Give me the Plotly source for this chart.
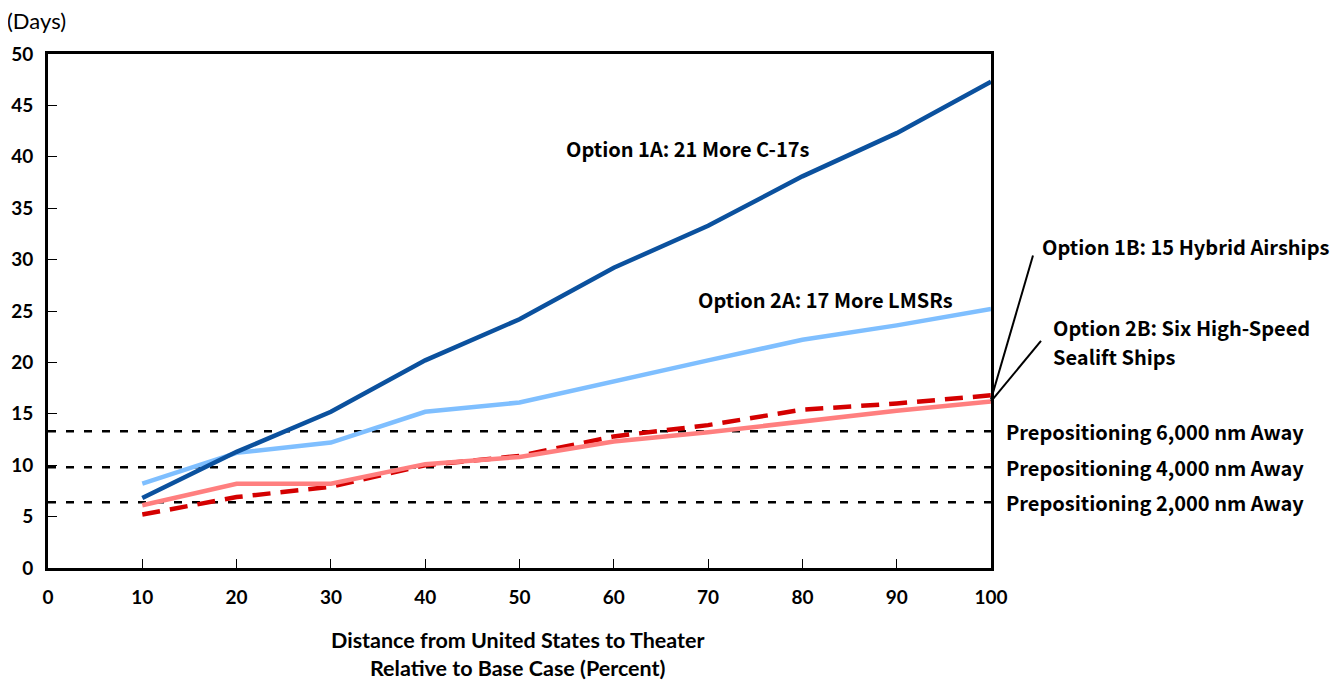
import plotly.graph_objects as go

x_vals = [10, 20, 30, 40, 50, 60, 70, 80, 90, 100]
opt_1a = [6.8, 11.3, 15.2, 20.2, 24.2, 29.2, 33.3, 38.1, 42.3, 47.3]
opt_2a = [8.2, 11.2, 12.2, 15.2, 16.1, 18.2, 20.2, 22.2, 23.6, 25.2]
opt_2b = [6.1, 8.2, 8.2, 10.1, 10.8, 12.3, 13.2, 14.3, 15.3, 16.2]
opt_1b = [5.2, 6.9, 7.9, 10.0, 10.9, 12.8, 13.9, 15.4, 16.0, 16.8]
prepos_levels = [13.3, 9.8, 6.4]
prepos_labels = ["Prepositioning 6,000 nm Away", "Prepositioning 4,000 nm Away", "Prepositioning 2,000 nm Away"]
x_ticks = [0, 10, 20, 30, 40, 50, 60, 70, 80, 90, 100]
y_ticks = [0, 5, 10, 15, 20, 25, 30, 35, 40, 45, 50]

TICK_FONT = "Lato, sans-serif"
ANN_FONT = "Noto Sans CJK KR, Noto Sans, sans-serif"

W, H = 1334, 677
L, R, T, B = 40, 351, 46, 117
PW = W - L - R
PH = H - T - B


def px_to_paper_x(px):
    # page pixel -> paper coordinate (page has 8px body offset)
    return (px - 8 - L) / PW


def px_to_paper_y(py):
    return 1 - (py - 8 - T) / PH


fig = go.Figure()
fig.add_trace(go.Scatter(x=x_vals, y=opt_1b, mode="lines", line=dict(color="#D40000", width=4.5, dash="18px,10px"), name="1B"))
fig.add_trace(go.Scatter(x=x_vals, y=opt_2b, mode="lines", line=dict(color="#FF7F7F", width=4.5), name="2B"))
fig.add_trace(go.Scatter(x=x_vals, y=opt_2a, mode="lines", line=dict(color="#7FBFFF", width=4.5), name="2A"))
fig.add_trace(go.Scatter(x=x_vals, y=opt_1a, mode="lines", line=dict(color="#0B519E", width=4.5), name="1A"))

shapes = []
for lvl in prepos_levels:
    shapes.append(dict(type="line", xref="paper", yref="y", x0=0, x1=1.006, y0=lvl, y1=lvl,
                       line=dict(color="black", width=2.5, dash="8px,10px"), layer="below"))
# callout lines (from series end to label)
shapes.append(dict(type="line", xref="paper", yref="y", x0=1.0, y0=opt_1b[-1] - 0.4, x1=px_to_paper_x(1033), y1=30.4,
                   line=dict(color="black", width=2)))
shapes.append(dict(type="line", xref="paper", yref="y", x0=1.0, y0=opt_2b[-1], x1=px_to_paper_x(1041), y1=22.1,
                   line=dict(color="black", width=2)))

ann_font = dict(family=ANN_FONT, size=20, color="black", weight="bold")
annotations = [
    dict(text="(Days)", xref="paper", yref="paper", x=px_to_paper_x(5), y=px_to_paper_y(20), xanchor="left", yanchor="middle",
         showarrow=False, font=dict(family=TICK_FONT, size=22, color="black")),
    dict(text="Option 1A: 21 More C-17s", xref="paper", yref="paper", x=px_to_paper_x(811), y=px_to_paper_y(148),
         xanchor="right", yanchor="middle", showarrow=False, font=ann_font),
    dict(text="Option 2A: 17 More LMSRs", xref="paper", yref="paper", x=px_to_paper_x(955), y=px_to_paper_y(299),
         xanchor="right", yanchor="middle", showarrow=False, font=ann_font),
    dict(text="Option 1B: 15 Hybrid Airships", xref="paper", yref="paper", x=px_to_paper_x(1040), y=px_to_paper_y(246),
         xanchor="left", yanchor="middle", showarrow=False, font=ann_font),
    dict(text="Option 2B: Six High-Speed", xref="paper", yref="paper", x=px_to_paper_x(1051),
         y=px_to_paper_y(327), xanchor="left", yanchor="middle", showarrow=False, font=ann_font),
    dict(text="Sealift Ships", xref="paper", yref="paper", x=px_to_paper_x(1051),
         y=px_to_paper_y(356), xanchor="left", yanchor="middle", showarrow=False, font=ann_font),
    dict(text="Distance from United States to Theater<br>Relative to Base Case (Percent)", xref="paper", yref="paper",
         x=px_to_paper_x(517), y=px_to_paper_y(654), xanchor="center", yanchor="middle", showarrow=False,
         font=dict(family=TICK_FONT, size=21.5, color="black", weight="bold")),
]
for lvl, lab in zip(prepos_levels, prepos_labels):
    annotations.append(dict(text=lab, xref="paper", yref="y", x=px_to_paper_x(1004), y=lvl, xanchor="left", yanchor="middle",
                            showarrow=False, font=ann_font))

axis_common = dict(ticks="inside", ticklen=9, tickwidth=1, tickcolor="black",
                   showline=True, linecolor="black", linewidth=3, mirror=True, showgrid=False, zeroline=False,
                   tickfont=dict(family=TICK_FONT, size=19, color="black", weight="bold"))

fig.update_layout(
    width=W, height=H,
    margin=dict(l=L, r=R, t=T, b=B, autoexpand=False),
    paper_bgcolor="white", plot_bgcolor="white",
    showlegend=False,
    shapes=shapes, annotations=annotations,
    xaxis=dict(range=[0, 100], tickvals=x_ticks, ticklabelstandoff=10, **axis_common),
    yaxis=dict(range=[0, 50], tickvals=y_ticks, ticklabelstandoff=8, **axis_common),
)

fig.write_html("out.html")
